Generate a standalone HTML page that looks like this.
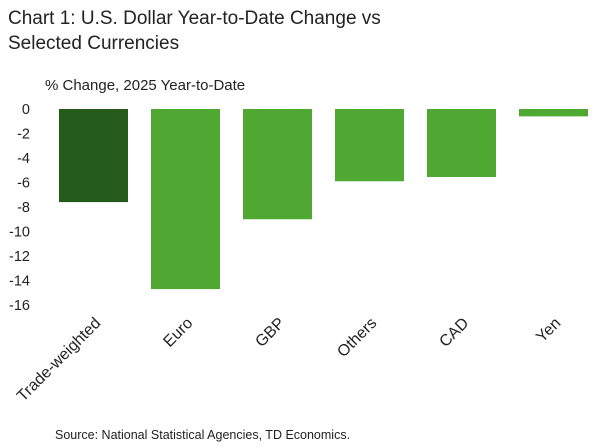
<!DOCTYPE html>
<html><head><meta charset="utf-8"><style>
body{margin:0;background:#fff;width:600px;height:448px;overflow:hidden;font-family:"Liberation Sans",sans-serif;color:#222}
#title{position:absolute;left:8px;top:6px;font-size:19px;line-height:25px;color:#222}
#unit{position:absolute;left:45px;top:77px;font-size:15px}
#src{position:absolute;left:55px;top:428px;font-size:12.5px}
svg{position:absolute;left:0;top:0}
</style></head><body>
<div id="title">Chart 1: U.S. Dollar Year-to-Date Change vs<br>Selected Currencies</div>
<div id="unit">% Change, 2025 Year-to-Date</div>
<svg id="chart" width="600" height="448"></svg>
<div id="src">Source: National Statistical Agencies, TD Economics.</div>
<script>
const categories=["Trade-weighted","Euro","GBP","Others","CAD","Yen"];
const values=[-7.6,-14.7,-9.0,-5.9,-5.55,-0.6];
const yTicks=[0,-2,-4,-6,-8,-10,-12,-14,-16];
const colors=["#245a1a","#4ea832","#4ea832","#4ea832","#4ea832","#4ea832"];
const svg=document.getElementById('chart');
const NS='http://www.w3.org/2000/svg';
const y0=109,ppu=12.25,xStart=47.5,band=92,bw=69;
const y=v=>y0-v*ppu;
const xc=i=>xStart+band*i+band/2;
function mk(t,a){const e=document.createElementNS(NS,t);for(const k in a)e.setAttribute(k,a[k]);svg.appendChild(e);return e;}
yTicks.forEach(t=>{
 const e=mk('text',{x:30,y:y(t)+5,'text-anchor':'end','font-size':14.5,fill:'#222'});
 e.textContent=t;
 
 
});
values.forEach((v,i)=>{
 const r=mk('rect',{x:xc(i)-bw/2,y:y(0),width:bw,height:y(v)-y(0),fill:colors[i]});
 
 
 const tx=xc(i)+8,ty=324;
 const l=mk('text',{x:tx,y:ty,'text-anchor':'end','font-size':16,fill:'#222',transform:`rotate(-45 ${tx} ${ty})`});
 l.textContent=categories[i];
 
 
});
</script>
</body></html>
